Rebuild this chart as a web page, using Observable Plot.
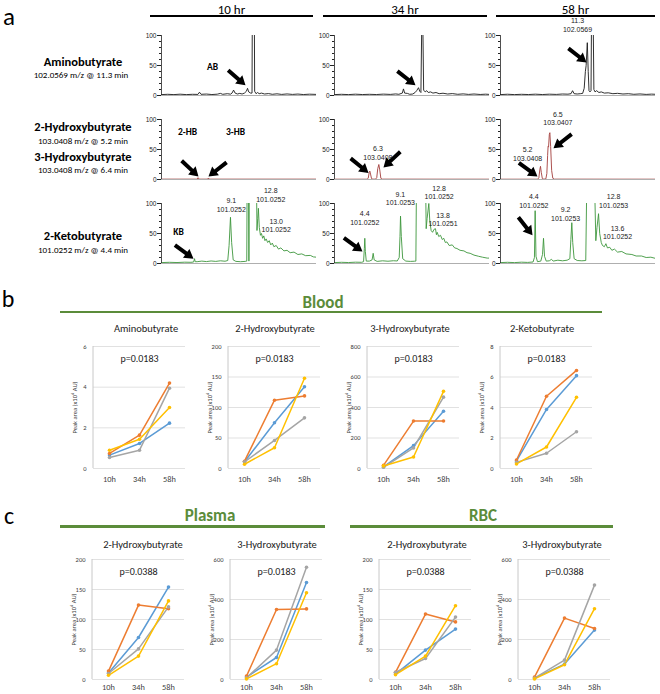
<!DOCTYPE html>
<html><head><meta charset="utf-8">
<script src="https://cdn.jsdelivr.net/npm/d3@7"></script>
<script src="https://cdn.jsdelivr.net/npm/@observablehq/plot@0.6"></script>
<style>
html,body{margin:0;padding:0;background:#fff;}
#fig{position:relative;width:660px;height:694px;overflow:hidden;background:#fff;}
#fig svg{position:absolute;}
</style></head>
<body><div id="fig"></div>
<script>
// ---------------- DATA ----------------
// Panel a: chromatogram traces, [retention time (min), relative intensity (%)]
const ab10 = [[0,1.5],[0.8,2],[1.6,1.5],[2.4,2.2],[3.2,1.5],[4.0,2],[4.7,1.8],[4.9,5.5],[5.1,2],[5.8,2.4],[6.5,1.6],[7.2,2.2],[7.6,3.5],[7.9,2],[8.5,3],[8.9,2.2],[9.1,4],[9.3,9],[9.5,4],[9.8,2.5],[10.1,3.5],[10.4,2.5],[10.7,4],[10.95,7],[11.1,12],[11.25,6],[11.5,4],[11.68,4],[11.72,140],[11.98,140],[12.02,7],[12.2,3],[12.4,5],[12.6,3],[12.9,4],[13.3,2.5],[13.8,3.2],[14.3,2],[14.9,2.8],[15.5,1.8],[16.2,2.6],[16.9,1.8],[17.6,2.4],[18.3,1.6],[19.1,2.2],[20,1.8]];
const ab34 = [[0,1.5],[0.9,2],[1.8,1.5],[2.7,2.2],[3.6,1.6],[4.5,2],[5.4,1.6],[6.3,2.3],[7.2,1.8],[7.9,2.6],[8.3,2],[8.75,4],[8.9,11],[9.05,4],[9.4,3.5],[9.7,2],[10.1,2.5],[10.4,5],[10.6,8],[10.84,13],[11.0,7],[11.15,5],[11.28,140],[11.38,140],[11.5,9],[11.7,6],[11.9,8],[12.1,5],[12.4,6],[12.7,4],[13.1,5],[13.5,3],[14.0,3.8],[14.6,2.5],[15.2,3.2],[15.9,2],[16.6,2.7],[17.3,1.8],[18.0,2.5],[18.8,1.7],[19.5,2.2],[20,1.8]];
const ab58 = [[0,1.5],[0.9,2.1],[1.8,1.5],[2.7,2],[3.6,1.6],[4.5,2.2],[5.4,1.6],[6.3,2.2],[7.2,1.8],[8.0,2.5],[8.7,2.2],[9.1,3],[9.3,8],[9.5,3],[9.9,2.5],[10.3,3],[10.6,3.5],[10.8,12],[10.95,40],[11.05,50],[11.2,88],[11.32,40],[11.42,8],[11.55,6],[11.68,8],[11.75,140],[11.95,140],[12.05,10],[12.2,6],[12.4,8],[12.7,5],[13.0,6],[13.4,4],[13.9,4.5],[14.5,3],[15.1,3.6],[15.8,2.5],[16.5,3],[17.2,2],[18.0,2.6],[18.8,1.8],[19.5,2.3],[20,2]];
const hb10 = [[0,0.6],[4.6,0.6],[4.72,3],[4.85,0.6],[5.95,0.6],[6.05,2.5],[6.15,0.6],[20,0.6]];
const hb34 = [[0,0.5],[4.2,0.5],[4.35,2],[4.48,12],[4.56,14],[4.65,9],[4.78,1.5],[4.95,0.6],[5.3,0.6],[5.45,3],[5.58,18],[5.72,25],[5.84,16],[5.98,2],[6.15,0.6],[20,0.5]];
const hb58 = [[0,0.5],[4.8,0.5],[4.95,3],[5.07,16],[5.16,22],[5.26,12],[5.4,1.5],[5.6,0.6],[5.85,1],[5.98,10],[6.08,40],[6.14,55],[6.2,54],[6.3,75],[6.37,78],[6.47,55],[6.6,15],[6.75,2],[6.95,0.6],[20,0.5]];
const kb10 = [[0,1.5],[1,2],[2,1.6],[3,2.2],[3.8,2],[4.15,2.5],[4.26,8],[4.35,3],[4.6,3],[5.2,4],[5.8,3.2],[6.4,4.2],[7.0,3.5],[7.6,4.5],[8.2,3.8],[8.55,5],[8.72,30],[8.9,77],[9.05,35],[9.25,6],[9.6,3.5],[10.2,3],[10.8,3.5],[11.0,4],[11.05,140],[11.22,140],[11.28,4],[11.33,140],[12.25,140],[12.32,55],[12.42,75],[12.5,92],[12.62,60],[12.77,47],[12.9,50],[13.05,42],[13.2,46],[13.35,38],[13.5,41],[13.7,35],[13.9,38],[14.1,31],[14.3,34],[14.5,28],[14.8,30],[15.1,24],[15.4,26],[15.8,21],[16.2,22],[16.6,18],[17.1,19],[17.6,15],[18.1,16],[18.6,13],[19.2,13.5],[19.6,11],[20,10.5]];
const kb34 = [[0,1.5],[0.9,2],[1.8,1.6],[2.7,2.2],[3.5,2],[3.75,3],[3.85,25],[3.91,42],[3.98,20],[4.1,4],[4.5,4],[4.85,6],[4.99,17],[5.12,6],[5.5,3.5],[6.2,4.5],[6.9,3.8],[7.6,4.6],[8.1,4.2],[8.35,10],[8.45,45],[8.52,79],[8.62,45],[8.8,8],[9.2,4],[9.8,3.5],[10.3,3.8],[10.5,4],[10.58,140],[11.75,140],[11.83,58],[11.95,75],[12.17,100],[12.3,70],[12.47,55],[12.65,52],[12.85,57],[13.03,58],[13.15,48],[13.25,52],[13.45,45],[13.68,47],[13.9,40],[14.1,42],[14.3,35],[14.5,36],[14.8,30],[15.2,31],[15.5,26],[15.8,25],[16.2,22],[16.7,21],[17.1,18],[17.5,17],[18.0,14],[18.6,12],[19.1,10.5],[19.7,9],[20,9]];
const kb58 = [[0,1.5],[0.9,2],[1.8,1.5],[2.7,2.2],[3.5,1.8],[4.2,2.5],[4.38,10],[4.47,88],[4.58,12],[4.77,3],[5.2,4],[5.42,15],[5.55,42],[5.68,12],[5.9,4],[6.3,4.5],[6.58,7],[6.8,4],[7.4,5.5],[8.0,4.5],[8.6,5.5],[8.95,8],[9.08,40],[9.2,68],[9.32,35],[9.5,8],[9.9,5],[10.5,4.5],[11.0,5],[11.14,140],[12.13,140],[12.3,38],[12.45,60],[12.65,83],[12.8,50],[13.0,35],[13.16,30],[13.4,28],[13.6,33],[13.8,26],[14.1,27],[14.37,22],[14.7,24],[15.1,19],[15.65,20],[16.2,16],[16.95,15],[17.5,12.5],[18.2,12.5],[18.8,10],[19.4,10.5],[20,8.5]];

const hours = ["10 hr", "34 hr", "58 hr"];
const metabolitesA = ["Aminobutyrate", "2-Hydroxybutyrate", "3-Hydroxybutyrate", "2-Ketobutyrate"];
const mzLines = ["102.0569 m/z @ 11.3 min", "103.0408 m/z @ 5.2 min", "103.0408 m/z @ 6.4 min", "101.0252 m/z @ 4.4 min"];

// arrows: row, col, tip retention time, tip intensity, direction (deg)
const arrowMarks = [
  {row:0,col:0,t:10.84,v:17,angle:131},{row:0,col:1,t:10.45,v:17,angle:128},{row:0,col:2,t:11.1,v:55,angle:128},
  {row:1,col:0,t:4.77,v:5,angle:133},{row:1,col:0,t:6.06,v:5,angle:232},
  {row:1,col:1,t:4.39,v:11,angle:129},{row:1,col:1,t:6.32,v:20,angle:227},
  {row:1,col:2,t:4.77,v:5,angle:126},{row:1,col:2,t:6.84,v:52,angle:232},
  {row:2,col:0,t:4.13,v:8,angle:126},{row:2,col:1,t:3.61,v:20,angle:126},{row:2,col:2,t:4.13,v:47,angle:142}
];
// peak annotations: retention time and m/z
const peakLabels = [
  {row:0,col:2,t:9.94,v:118,text:"11.3\n102.0569"},
  {row:1,col:1,t:5.6,v:45,text:"6.3\n103.0408"},
  {row:1,col:2,t:7.4,v:102,text:"6.5\n103.0407"},
  {row:1,col:2,t:3.5,v:43,text:"5.2\n103.0408"},
  {row:2,col:0,t:9.0,v:98,text:"9.1\n101.0252"},
  {row:2,col:0,t:14.1,v:115,text:"12.8\n101.0252"},
  {row:2,col:0,t:14.8,v:64,text:"13.0\n101.0252"},
  {row:2,col:1,t:3.9,v:76,text:"4.4\n101.0252"},
  {row:2,col:1,t:8.5,v:109,text:"9.1\n101.0253"},
  {row:2,col:1,t:13.5,v:119,text:"12.8\n101.0252"},
  {row:2,col:1,t:14.0,v:74,text:"13.8\n101.0251"},
  {row:2,col:2,t:4.3,v:105,text:"4.4\n101.0252"},
  {row:2,col:2,t:8.4,v:83,text:"9.2\n101.0253"},
  {row:2,col:2,t:14.6,v:105,text:"12.8\n101.0253"},
  {row:2,col:2,t:15.1,v:52,text:"13.6\n101.0252"}
];
const tagLabels = [
  {row:0,col:0,t:6.6,v:48,text:"AB"},
  {row:1,col:0,t:3.35,v:79,text:"2-HB"},
  {row:1,col:0,t:9.55,v:80,text:"3-HB"},
  {row:2,col:0,t:2.2,v:52,text:"KB"}
];

// Panels b and c: peak area (x10^6 AU) per donor (blue, orange, gray, yellow) at 10h, 34h, 58h
const timePoints = ["10h", "34h", "58h"];
const donors = ["Donor 1", "Donor 2", "Donor 3", "Donor 4"];
const donorColors = ["#5B9BD5", "#ED7D31", "#A5A5A5", "#FFC000"];
const bloodAminobutyrate = [[0.66,1.23,2.23],[0.74,1.64,4.2],[0.54,0.9,3.95],[0.9,1.44,3.0]];
const bloodHydroxy2 = [[11,75,134],[12,112,119],[11,46,83],[7,34,148]];
const bloodHydroxy3 = [[10,150,375],[21,311,311],[8,135,468],[17,75,506]];
const bloodKeto = [[0.5,3.87,6.09],[0.56,4.74,6.43],[0.4,1.0,2.41],[0.3,1.41,4.67]];
const plasmaHydroxy2 = [[11,70,154],[14,124,118],[10,51,121],[7,39,131]];
const plasmaHydroxy3 = [[12,110,485],[17,350,353],[8,147,561],[3,79,434]];
const rbcHydroxy2 = [[9,49,84],[12,109,96],[12,35,104],[8,39,123]];
const rbcHydroxy3 = [[7,77,247],[12,307,255],[7,97,472],[3,74,354]];
const pValues = ["p=0.0183", "p=0.0183", "p=0.0183", "p=0.0183", "p=0.0388", "p=0.0183", "p=0.0388", "p=0.0388"];
const ticks6 = [0,2,4,6], ticks8 = [0,2,4,6,8], ticks200 = [0,50,100,150,200], ticks600 = [0,200,400,600], ticks800 = [0,200,400,600,800];

// ---------------- RENDER ----------------
const SANS = "Carlito, Lato, 'Open Sans', sans-serif";
const ARIAL = "'Liberation Sans Narrow', 'Liberation Sans', Arial, sans-serif";
const GREEN = "#5b8c3a";
const fig = document.getElementById("fig");

function label(text, x, y, o = {}) {
  const d = document.createElement("div");
  d.textContent = text;
  Object.assign(d.style, {position:"absolute", left:x+"px", top:y+"px", transform:"translate(-50%,-50%)",
    whiteSpace:"nowrap", fontFamily:o.family||SANS, fontSize:(o.size||10)+"px", fontWeight:o.weight||400,
    color:o.color||"#000", lineHeight:"1"});
  fig.appendChild(d);
}
function hline(x1, x2, y, w, color) {
  const d = document.createElement("div");
  Object.assign(d.style, {position:"absolute", left:x1+"px", top:(y-w/2)+"px", width:(x2-x1)+"px", height:w+"px", background:color});
  fig.appendChild(d);
}
function place(svg, left, top) {
  svg.style.left = left + "px"; svg.style.top = top + "px";
  fig.appendChild(svg);
}

// ---- Panel a ----
label("a", 9, 16, {size:25});
const headerSpans = [[150,313],[323,487],[496,655]];
hours.forEach((h, i) => {
  const [x1, x2] = headerSpans[i];
  label(h, (x1+x2)/2, 8.5, {size:13});
  hline(x1, x2, 15.5, 2, "#000");
});
label(metabolitesA[0], 83, 61.5, {size:12.5, weight:700});
label(mzLines[0], 81, 73.5, {size:9});
label(metabolitesA[1], 83, 127, {size:12.5, weight:700});
label(mzLines[1], 83, 139.5, {size:9});
label(metabolitesA[2], 83, 156.5, {size:12.5, weight:700});
label(mzLines[2], 83, 169, {size:9});
label(metabolitesA[3], 83, 236, {size:12.5, weight:700});
label(mzLines[3], 83, 248.5, {size:9});

const traces = [[ab10, ab34, ab58], [hb10, hb34, hb58], [kb10, kb34, kb58]];
const traceColors = ["#1a1a1a", "#a33d3b", "#3d963c"];
const colLefts = [161, 334, 500], rowTops = [35, 119, 203];
const minorTicks = [0,10,20,30,40,50,60,70,80,90,100];

// filled block-arrow shape for the vector mark
const blockArrow = {
  draw(context, l) {
    const hw = 5.5, sw = 2, hl = 9;
    context.moveTo(-sw, 0);
    context.lineTo(-sw, -l + hl);
    context.lineTo(-hw, -l + hl);
    context.lineTo(0, -l);
    context.lineTo(hw, -l + hl);
    context.lineTo(sw, -l + hl);
    context.lineTo(sw, 0);
    context.closePath();
  }
};

function chromatogram(row, col) {
  const mL = 24, mT = 24, mB = 4, mR = 3, FW = 155, FH = 60;
  const pts = traces[row][col].map(([t, v]) => ({t, v}));
  const sel = (arr) => arr.filter(d => d.row === row && d.col === col);
  const base = [
    Plot.ruleY([0], {stroke: "#9a9a9a", strokeWidth: 0.8}),
    Plot.line(pts, {x: "t", y: "v", stroke: traceColors[row], strokeWidth: 0.9, clip: true}),
    Plot.ruleX([0], {y1: 0, y2: 100, stroke: "#222", strokeWidth: 0.8}),
    Plot.axisY(minorTicks, {tickSize: 2, tickFormat: () => "", label: null}),
    Plot.axisY([0, 50, 100], {tickSize: 4, tickPadding: 1, fontSize: 6.5, label: null}),
    Plot.text(sel(peakLabels), {x: "t", y: "v", text: "text", fontSize: 7, lineHeight: 1.25, fill: "#222"}),
    Plot.text(sel(tagLabels), {x: "t", y: "v", text: "text", fontSize: 9.5, fontWeight: "bold", fill: "#000", fontFamily: SANS})
  ];
  const opts = (arrowMark) => ({
    width: mL+FW+mR, height: mT+FH+mB, marginLeft: mL, marginTop: mT, marginRight: mR, marginBottom: mB,
    x: {domain: [0, 20], axis: null},
    y: {domain: [0, 100]},
    style: {background: "transparent", overflow: "visible", fontFamily: ARIAL, color: "#222"},
    marks: [...base, arrowMark]
  });
  let svg;
  try {
    svg = Plot.plot(opts(Plot.vector(sel(arrowMarks), {x: "t", y: "v", rotate: "angle", length: 23, anchor: "end",
      shape: blockArrow, fill: "#000", stroke: "none"})));
  } catch (e) {
    svg = Plot.plot(opts(Plot.vector(sel(arrowMarks), {x: "t", y: "v", rotate: "angle", length: 23, anchor: "end", r: 7,
      stroke: "#000", strokeWidth: 3.4, strokeLinejoin: "miter", strokeLinecap: "butt"})));
  }
  place(svg, colLefts[col] - mL, rowTops[row] - mT);
}
for (let r = 0; r < 3; r++) for (let c = 0; c < 3; c++) chromatogram(r, c);

// ---- Panels b and c ----
label("b", 8, 299, {size:24});
label("c", 9, 516, {size:24});
label("Blood", 323, 302, {size:17, weight:700, color:GREEN});
hline(60, 602, 312, 2.2, GREEN);
label("Plasma", 210, 515, {size:17, weight:700, color:GREEN});
hline(60, 325, 526.5, 2.2, GREEN);
label("RBC", 483, 515, {size:17, weight:700, color:GREEN});
hline(350, 613, 526.5, 2.2, GREEN);

function leftLine(...args) {
  const dims = args.find(a => a && typeof a === "object" && a.marginLeft !== undefined && a.height !== undefined);
  const l = document.createElementNS("http://www.w3.org/2000/svg", "line");
  l.setAttribute("x1", dims.marginLeft); l.setAttribute("x2", dims.marginLeft);
  l.setAttribute("y1", dims.marginTop); l.setAttribute("y2", dims.height - dims.marginBottom);
  l.setAttribute("stroke", "#c8c8c8"); l.setAttribute("stroke-width", "1");
  return l;
}

function lineChart(values, yTicks, pText, title, frameLeft, frameTop, frameH, titleX, titleY, xPad) {
  const mL = 32, mT = 2, mB = 15, mR = 2, FW = 92;
  const rows = values.flatMap((vals, i) => vals.map((v, j) => ({donor: donors[i], t: timePoints[j], v})));
  const svg = Plot.plot({
    width: mL+FW+mR, height: mT+frameH+mB, marginLeft: mL, marginTop: mT, marginRight: mR, marginBottom: mB,
    x: {type: "point", domain: timePoints, padding: 0.5},
    y: {domain: [0, yTicks[yTicks.length - 1]]},
    color: {domain: donors, range: donorColors},
    style: {background: "transparent", overflow: "visible", fontFamily: SANS, color: "#404040"},
    marks: [
      Plot.gridY(yTicks, {stroke: "#d9d9d9", strokeOpacity: 1, strokeWidth: 0.8}),
      leftLine,
      Plot.line(rows, {x: "t", y: "v", z: "donor", stroke: "donor", strokeWidth: 1.5}),
      Plot.dot(rows, {x: "t", y: "v", fill: "donor", r: 1.8}),
      Plot.axisY(yTicks, {tickSize: 0, tickPadding: 7, fontSize: 6.5, label: "Peak area (x10⁶ AU)",
        labelAnchor: "center", labelOffset: 21, labelArrow: "none"}),
      Plot.axisX({tickSize: 0, tickPadding: xPad, fontSize: 8.3, label: null}),
      Plot.text([pText], {text: d => d, frameAnchor: "top", dy: 8, fontSize: 10, fill: "#222"})
    ]
  });
  place(svg, frameLeft - mL, frameTop - mT);
  label(title, titleX, titleY, {size:10.5, color:"#222"});
}

lineChart(bloodAminobutyrate, ticks6, pValues[0], "Aminobutyrate", 93, 346, 122, 146, 329, 8);
lineChart(bloodHydroxy2, ticks200, pValues[1], "2-Hydroxybutyrate", 228, 346, 122, 275, 329, 8);
lineChart(bloodHydroxy3, ticks800, pValues[2], "3-Hydroxybutyrate", 367, 346, 122, 410, 329, 8);
lineChart(bloodKeto, ticks8, pValues[3], "2-Ketobutyrate", 500, 346, 122, 542, 329, 8);
lineChart(plasmaHydroxy2, ticks200, pValues[4], "2-Hydroxybutyrate", 92, 559, 120, 143, 545, 5);
lineChart(plasmaHydroxy3, ticks600, pValues[5], "3-Hydroxybutyrate", 230, 559, 120, 277, 545, 5);
lineChart(rbcHydroxy2, ticks200, pValues[6], "2-Hydroxybutyrate", 379, 559, 120, 427, 545, 5);
lineChart(rbcHydroxy3, ticks600, pValues[7], "3-Hydroxybutyrate", 518, 559, 120, 562, 545, 5);
</script>
</body></html>
